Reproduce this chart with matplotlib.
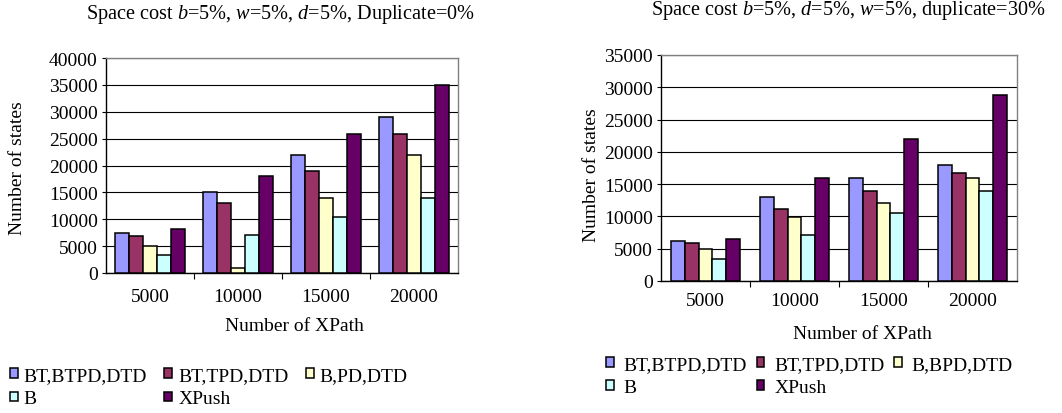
# Number of states vs number of XPath, two settings side by side

import matplotlib
matplotlib.use('Agg')
import matplotlib.pyplot as plt
import numpy as np

plt.rcParams['font.family'] = ['Liberation Serif', 'DejaVu Serif']
plt.rcParams['mathtext.fontset'] = 'custom'
plt.rcParams['mathtext.rm'] = 'Liberation Serif'
plt.rcParams['mathtext.it'] = 'Liberation Serif:italic'

# x categories
xpaths = ['5000', '10000', '15000', '20000']

# left chart, duplicate = 0%
left_labels = ['BT,BTPD,DTD', 'BT,TPD,DTD', 'B,PD,DTD', 'B', 'XPush']
left_bt_btpd = [7500, 15000, 22000, 29000]
left_bt_tpd = [6800, 13000, 19000, 25800]
left_b_pd = [5000, 1000, 14000, 22000]
left_b = [3400, 7000, 10400, 14000]
left_xpush = [8100, 18000, 25800, 35000]

# right chart, duplicate = 30%
right_labels = ['BT,BTPD,DTD', 'BT,TPD,DTD', 'B,BPD,DTD', 'B', 'XPush']
right_bt_btpd = [6200, 13000, 16000, 18000]
right_bt_tpd = [5900, 11200, 13900, 16700]
right_b_bpd = [5000, 9900, 12100, 16000]
right_b = [3400, 7100, 10500, 13900]
right_xpush = [6500, 16000, 22000, 28800]

colors = ['#9999FF', '#993366', '#FFFFCC', '#CCFFFF', '#660066']
FS = 14
W, H = 1062, 414


def px(x, y):
    # pixel coords (from top left) -> figure fraction
    return x / W, (H - y) / H


def draw(ax, series, labels, ymax, tickpad):
    x = np.arange(len(xpaths))
    bw = 0.157
    handles = []
    for i, vals in enumerate(series):
        b = ax.bar(x + (i - 2) * bw, vals, bw, color=colors[i],
                   edgecolor='black', linewidth=1.1, zorder=3, label=labels[i])
        handles.append(b)
    ax.set_xlim(-0.5, len(xpaths) - 0.5)
    ax.set_ylim(0, ymax)
    ax.set_yticks(np.arange(0, ymax + 1, 5000))
    ax.yaxis.grid(True, color='black', linewidth=0.8, zorder=0)
    ax.set_xticks(x)
    ax.set_xticklabels(xpaths)
    ax.set_xticks(np.arange(0.5, len(xpaths) - 0.5, 1), minor=True)
    ax.tick_params(axis='x', which='major', length=0, pad=tickpad, labelsize=FS)
    ax.tick_params(axis='x', which='minor', length=4, width=0.8, direction='out')
    ax.tick_params(axis='y', length=3, width=0.8, pad=3, labelsize=FS)
    for s in ['top', 'right']:
        ax.spines[s].set_color('#808080')
        ax.spines[s].set_linewidth(1.0)
    for s in ['left', 'bottom']:
        ax.spines[s].set_color('black')
        ax.spines[s].set_linewidth(1.0)
    return handles


fig = plt.figure(figsize=(10.62, 4.14), dpi=100)

# left chart
ax1 = fig.add_axes([106 / W, (H - 274) / H, 352 / W, 215 / H])
h1 = draw(ax1, [left_bt_btpd, left_bt_tpd, left_b_pd, left_b, left_xpush],
          left_labels, 40000, 11)
fig.text(*px(280, 15), r'Space cost $b$=5%, $w$=5%, $d$=5%, Duplicate=0%',
         ha='center', va='center', fontsize=14.6)
fig.text(*px(18, 168), 'Number of states', rotation=90,
         ha='center', va='center', fontsize=FS)
fig.text(*px(294, 327), 'Number of XPath', ha='center', va='center', fontsize=FS)

# right chart
ax2 = fig.add_axes([661 / W, (H - 282) / H, 356 / W, 226 / H])
h2 = draw(ax2, [right_bt_btpd, right_bt_tpd, right_b_bpd, right_b, right_xpush],
          right_labels, 35000, 8)
fig.text(*px(848, 10), r'Space cost $b$=5%, $d$=5%, $w$=5%, duplicate=30%',
         ha='center', va='center', fontsize=14.6)
fig.text(*px(592, 175), 'Number of states', rotation=90,
         ha='center', va='center', fontsize=FS)
fig.text(*px(862, 335), 'Number of XPath', ha='center', va='center', fontsize=FS)

# legends, row-major order with 3 columns
order = [0, 3, 1, 4, 2]
fig.legend([h1[i] for i in order], [left_labels[i] for i in order],
           loc='center left', bbox_to_anchor=px(10, 388), ncol=3,
           frameon=False, fontsize=FS, borderpad=0, borderaxespad=0,
           handlelength=0.4, handleheight=0.4, handletextpad=0.3,
           columnspacing=0.9, labelspacing=0.35)
fig.legend([h2[i] for i in order], [right_labels[i] for i in order],
           loc='center left', bbox_to_anchor=px(606, 377), ncol=3,
           frameon=False, fontsize=FS, borderpad=0, borderaxespad=0,
           handlelength=0.4, handleheight=0.4, handletextpad=0.5,
           columnspacing=0.5, labelspacing=0.3)

plt.savefig('out.png', dpi=100)
